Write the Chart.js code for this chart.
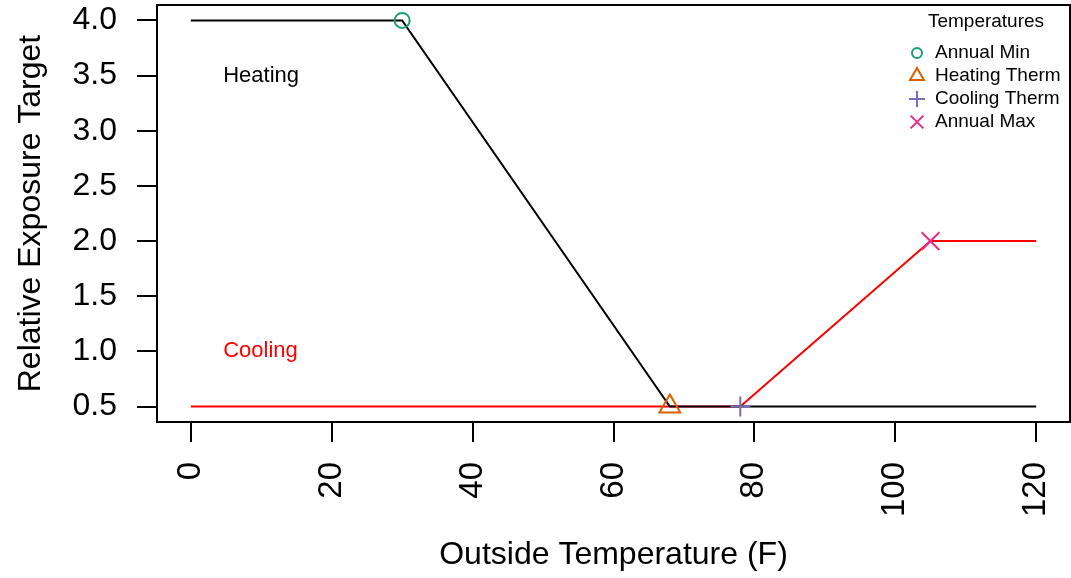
<!DOCTYPE html>
<html>
<head>
<meta charset="utf-8">
<script src="https://cdn.jsdelivr.net/npm/chart.js@4.4.1/dist/chart.umd.min.js"></script>
<style>
    html, body { margin: 0; padding: 0; background: #fff; }
    #wrap { width: 1071px; height: 578px; }
</style>
</head>
<body>
<div id="wrap"><canvas id="exposureChart" width="1071" height="578"></canvas></div>
<script>
// Data
const heatTemps = [0, 30, 68, 120];
const heatTargets = [4.0, 4.0, 0.5, 0.5];
const coolTemps = [0, 78, 105, 120];
const coolTargets = [0.5, 0.5, 2.0, 2.0];

// Marker temperatures
const markerLabels = ['Annual Min', 'Heating Therm', 'Cooling Therm', 'Annual Max'];
const markerTemps = [30, 68, 78, 105];
const markerTargets = [4.0, 0.5, 0.5, 2.0];

// Ticks
const xTicks = [0, 20, 40, 60, 80, 100, 120];
const yTicks = [0.5, 1.0, 1.5, 2.0, 2.5, 3.0, 3.5, 4.0];

// Text labels inside the plot
const noteTexts = ['Heating', 'Cooling'];
const noteTemps = [4.6, 4.6];
const noteTargets = [3.5, 1.0];

const FONT = '"Liberation Sans", Arial, Helvetica, sans-serif';
const MARKER_COLORS = ['#1B9E77', '#D95F02', '#7570B3', '#E7298A'];
const MARKER_STYLES = ['circle', 'triangle', 'cross', 'crossRot'];
const MARKER_SIZES = [7.5, 12, 10, 12.5];
const LEGEND_SIZES = [5, 8, 8, 9];
const NOTE_COLORS = ['#000000', '#FF0000'];

const toPoints = (xs, ys) => xs.map((x, i) => ({ x: x, y: ys[i] }));

// Marker datasets first so they sit on top of the lines
const markerSets = markerLabels.map((label, i) => ({
    label: label,
    data: [{ x: markerTemps[i], y: markerTargets[i] }],
    showLine: false,
    pointStyle: MARKER_STYLES[i],
    pointRadius: MARKER_SIZES[i],
    pointBorderWidth: 2,
    borderColor: MARKER_COLORS[i],
    backgroundColor: 'rgba(0,0,0,0)'
}));

// Fixed axis sizes, no extra overflow padding
function fixScale(scale, size) {
    if (scale.isHorizontal()) {
        scale.height = size;
    } else {
        scale.width = size;
    }
    scale.paddingTop = 0;
    scale.paddingBottom = 0;
    scale.paddingLeft = 0;
    scale.paddingRight = 0;
}

/**
 * Plot box, in-plot notes and legend
 */
const extrasPlugin = {
    id: 'extras',
    afterDatasetsDraw(chart) {
        const ctx = chart.ctx;
        const area = chart.chartArea;
        const xs = chart.scales.x;
        const ys = chart.scales.y;

        ctx.save();
        // full box around the plot region
        ctx.strokeStyle = '#000';
        ctx.lineWidth = 2;
        ctx.strokeRect(area.left, area.top, area.right - area.left, area.bottom - area.top);

        // Heating / Cooling notes
        ctx.font = '22px ' + FONT;
        ctx.textAlign = 'left';
        ctx.textBaseline = 'middle';
        noteTexts.forEach((t, i) => {
            ctx.fillStyle = NOTE_COLORS[i];
            ctx.fillText(t, xs.getPixelForValue(noteTemps[i]), ys.getPixelForValue(noteTargets[i]));
        });

        // legend
        ctx.font = '19px ' + FONT;
        ctx.fillStyle = '#000';
        ctx.textAlign = 'center';
        ctx.fillText('Temperatures', 986, 22);
        ctx.textAlign = 'left';
        markerLabels.forEach((label, i) => {
            const y = 52 + i * 23;
            ctx.strokeStyle = MARKER_COLORS[i];
            ctx.fillStyle = 'rgba(0,0,0,0)';
            ctx.lineWidth = 2;
            Chart.helpers.drawPoint(ctx, {
                pointStyle: MARKER_STYLES[i],
                radius: LEGEND_SIZES[i],
                rotation: 0,
                borderWidth: 2
            }, 917, y + 1);
            ctx.fillStyle = '#000';
            ctx.fillText(label, 935, y + 1);
        });
        ctx.restore();
    }
};

const ctx = document.getElementById('exposureChart').getContext('2d');
new Chart(ctx, {
    type: 'scatter',
    data: {
        datasets: markerSets.concat([
            {
                label: 'Heating',
                data: toPoints(heatTemps, heatTargets),
                showLine: true,
                borderColor: '#000000',
                borderWidth: 2,
                pointRadius: 0,
                tension: 0
            },
            {
                label: 'Cooling',
                data: toPoints(coolTemps, coolTargets),
                showLine: true,
                borderColor: '#FF0000',
                borderWidth: 2,
                pointRadius: 0,
                tension: 0
            }
        ])
    },
    options: {
        responsive: false,
        animation: false,
        devicePixelRatio: 1,
        layout: { autoPadding: false, padding: { left: 0, top: 5, right: 1, bottom: 0 } },
        plugins: {
            legend: { display: false },
            tooltip: { enabled: false }
        },
        scales: {
            x: {
                type: 'linear',
                min: -4.8,
                max: 124.8,
                afterFit: scale => fixScale(scale, 156),
                afterBuildTicks: scale => { scale.ticks = xTicks.map(v => ({ value: v })); },
                grid: {
                    drawOnChartArea: false,
                    drawTicks: true,
                    tickLength: 20,
                    color: '#000',
                    lineWidth: 2
                },
                border: { display: true, color: '#000', width: 2 },
                ticks: {
                    autoSkip: false,
                    minRotation: 90,
                    maxRotation: 90,
                    padding: 20,
                    color: '#000',
                    font: { family: FONT, size: 33 },
                    callback: v => String(v)
                },
                title: {
                    display: true,
                    text: 'Outside Temperature (F)',
                    color: '#000',
                    font: { family: FONT, size: 32 },
                    padding: { top: 0, bottom: 4 }
                }
            },
            y: {
                type: 'linear',
                min: 0.36,
                max: 4.14,
                afterFit: scale => fixScale(scale, 157),
                afterBuildTicks: scale => { scale.ticks = yTicks.map(v => ({ value: v })); },
                grid: {
                    drawOnChartArea: false,
                    drawTicks: true,
                    tickLength: 20,
                    color: '#000',
                    lineWidth: 2
                },
                border: { display: true, color: '#000', width: 2 },
                ticks: {
                    padding: 20,
                    color: '#000',
                    font: { family: FONT, size: 32 },
                    callback: v => v.toFixed(1)
                },
                title: {
                    display: true,
                    text: 'Relative Exposure Target',
                    color: '#000',
                    font: { family: FONT, size: 32 },
                    padding: { top: 12, bottom: 0 }
                }
            }
        }
    },
    plugins: [extrasPlugin]
});
</script>
</body>
</html>
